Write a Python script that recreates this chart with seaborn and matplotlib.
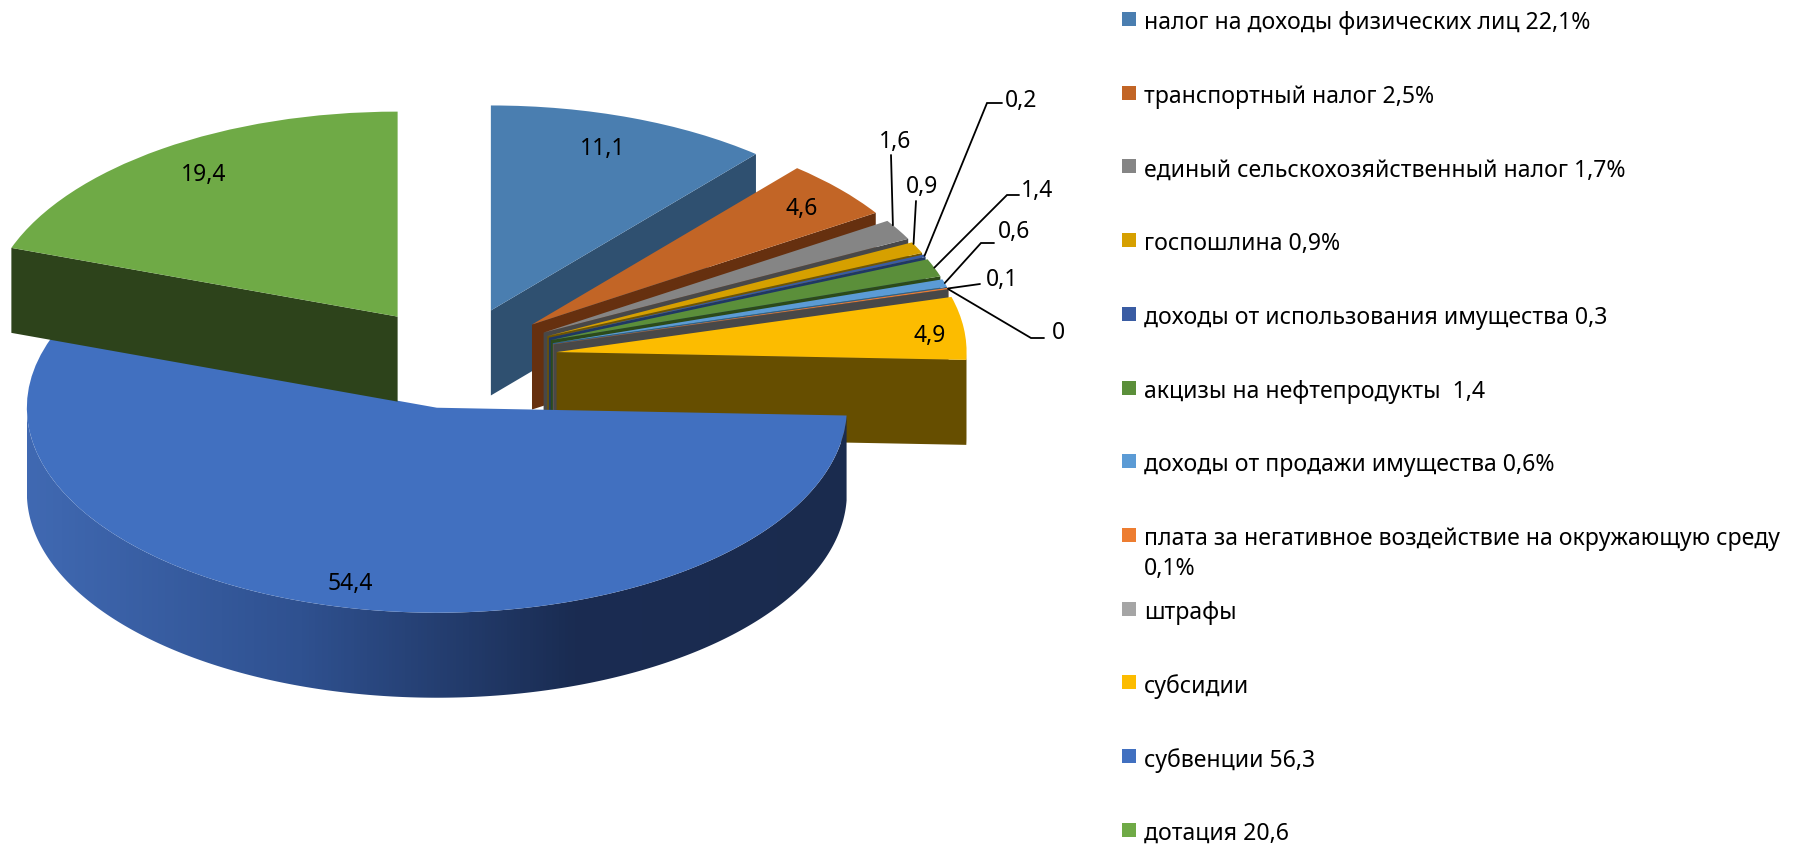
import numpy as np
import pandas as pd
import seaborn as sns
import matplotlib.pyplot as plt
from matplotlib.patches import Polygon, Rectangle

# Values
categories = [
    "налог на доходы физических лиц 22,1%",
    "транспортный налог 2,5%",
    "единый сельскохозяйственный налог 1,7%",
    "госпошлина 0,9%",
    "доходы от использования имущества 0,3",
    "акцизы на нефтепродукты  1,4",
    "доходы от продажи имущества 0,6%",
    "плата за негативное воздействие на окружающую среду\n0,1%",
    "штрафы",
    "субсидии",
    "субвенции 56,3",
    "дотация 20,6",
]
values = [11.1, 4.6, 1.6, 0.9, 0.2, 1.4, 0.6, 0.1, 0.0, 4.9, 54.4, 19.4]
value_labels = ["11,1", "4,6", "1,6", "0,9", "0,2", "1,4", "0,6", "0,1", "0", "4,9", "54,4", "19,4"]

top_colors = ["#4a7eb0", "#c26526", "#858585", "#d6a000", "#3a5ca3", "#5b8f3a",
              "#5b9bd5", "#ed7d31", "#a5a5a5", "#fcbc00", "#4170c0", "#6faa46"]
side_colors = ["#2f5070", "#66300f", "#484848", "#705500", "#1f3864", "#2c4a1a",
               "#2f5f8a", "#b05a20", "#484848", "#664e00", "#1f3864", "#2d431b"]

# Layout in pixels of the reference picture
WIDTH, HEIGHT = 1796, 848
CENTER_X, CENTER_Y = 456, 358
RADIUS_X, RADIUS_Y = 410, 205
DEPTH = 85 / RADIUS_Y
EXPLODE = 0.247

inside_labels = {0: (603, 149), 1: (802, 209), 9: (930, 336), 10: (350, 584), 11: (204, 175)}
# slice index: (where on the rim the line starts, elbow, line end, label centre)
leaders = {
    2: (0.25, (891, 155), (891, 155), (895, 142)),
    3: (0.15, (916, 201), (916, 201), (922, 187)),
    4: (0.5, (987, 103), (1002, 103), (1021, 101)),
    5: (0.5, (1007, 195), (1019, 195), (1037, 191)),
    6: (0.5, (981, 243), (994, 243), (1014, 232)),
    7: (0.5, (980, 284), (980, 284), (1002, 280)),
    8: (0.5, (1031, 338), (1044, 338), (1058, 333)),
}


def px(x, y):
    """Convert reference pixels to the data units of the pie."""
    return (x - CENTER_X) / RADIUS_X, (CENTER_Y - y) / RADIUS_Y


def draw_slice_side(ax, wedge, index):
    """Draw the visible radial faces and the outer rim below one wedge."""
    cx, cy = wedge.center
    t1, t2 = sorted((wedge.theta1, wedge.theta2))
    color = side_colors[index]
    z = index * 2 + 2

    # radial faces turned towards the viewer
    for angle, sign in ((t1, 1), (t2, -1)):
        cos_a, sin_a = np.cos(np.radians(angle)), np.sin(np.radians(angle))
        if sign * cos_a > 1e-6:
            rim = (cx + cos_a, cy + sin_a)
            ax.fill([cx, rim[0], rim[0], cx],
                    [cy, rim[1], rim[1] - DEPTH, cy - DEPTH],
                    color=color, lw=0, zorder=z)

    # outer rim on the front half
    angles = np.radians(np.linspace(t1, t2, 400))
    angles = angles[np.sin(angles) < 0]
    if len(angles) < 2:
        return
    xs = cx + np.cos(angles)
    ys = cy + np.sin(angles)
    poly_xy = np.vstack([np.column_stack([xs, ys]),
                         np.column_stack([xs[::-1], ys[::-1] - DEPTH])])
    if index == 10:
        # the big slice has a shaded rim, light on the left
        cmap = sns.blend_palette(["#4069b2", "#2f5190", "#1a2c52", "#1a2b4e"], as_cmap=True)
        image = ax.imshow(np.linspace(0, 1, 256)[None, :], cmap=cmap, aspect="auto", zorder=z,
                          extent=(xs.min(), xs.max(), ys.min() - DEPTH, ys.max()))
        image.set_clip_path(Polygon(poly_xy, closed=True, transform=ax.transData))
    else:
        ax.add_patch(Polygon(poly_xy, closed=True, color=color, lw=0, zorder=z))


def main():
    sns.set_theme(style="white")
    plt.rcParams["font.family"] = ["Noto Sans", "DejaVu Sans"]

    data = pd.DataFrame({"category": categories, "value": values, "label": value_labels,
                         "color": top_colors})

    fig = plt.figure(figsize=(WIDTH / 100, HEIGHT / 100), dpi=100)
    ax = fig.add_axes([0, 0, 1, 1])

    wedges, _ = ax.pie(data["value"], explode=[EXPLODE] * len(data), colors=data["color"],
                       startangle=90, counterclock=False, radius=1,
                       wedgeprops={"linewidth": 0})

    for i, wedge in enumerate(wedges):
        wedge.set_zorder(i * 2 + 3)
        draw_slice_side(ax, wedge, i)

    # The pie is flattened, so the axes stop being equal here
    ax.set_aspect("auto")
    ax.set_xlim(px(0, 0)[0], px(WIDTH, 0)[0])
    ax.set_ylim(px(0, HEIGHT)[1], px(0, 0)[1])
    ax.axis("off")

    # Labels inside the slices
    for i, pos in inside_labels.items():
        ax.text(*px(*pos), data["label"][i], fontsize=16.5, ha="center", va="center",
                color="black", zorder=50)

    # Labels of the thin slices, with leader lines from the rim
    for i, (share, elbow, end, label_pos) in leaders.items():
        wedge = wedges[i]
        angle = np.radians(wedge.theta2 + (wedge.theta1 - wedge.theta2) * share)
        start = (wedge.center[0] + np.cos(angle), wedge.center[1] + np.sin(angle))
        points = [start, px(*elbow), px(*end)]
        ax.plot([p[0] for p in points], [p[1] for p in points], color="black", lw=1.3,
                solid_joinstyle="miter", zorder=49)
        ax.text(*px(*label_pos), data["label"][i], fontsize=16.5, ha="center", va="center",
                color="black", zorder=50)

    # Legend written by hand: rows are evenly spaced even with the wrapped entry
    for i, row in data.iterrows():
        row_y = 19 + 73.7 * i
        x0, y0 = px(1122, row_y + 7)
        x1, y1 = px(1136, row_y - 7)
        ax.add_patch(Rectangle((x0, y0), x1 - x0, y1 - y0, color=row["color"], lw=0, zorder=50))
        ax.text(*px(1144, row_y - 8), row["category"], fontsize=16.6, ha="left", va="top",
                color="black", linespacing=1.35, zorder=50)

    fig.savefig("out.png", dpi=100)


if __name__ == "__main__":
    main()
